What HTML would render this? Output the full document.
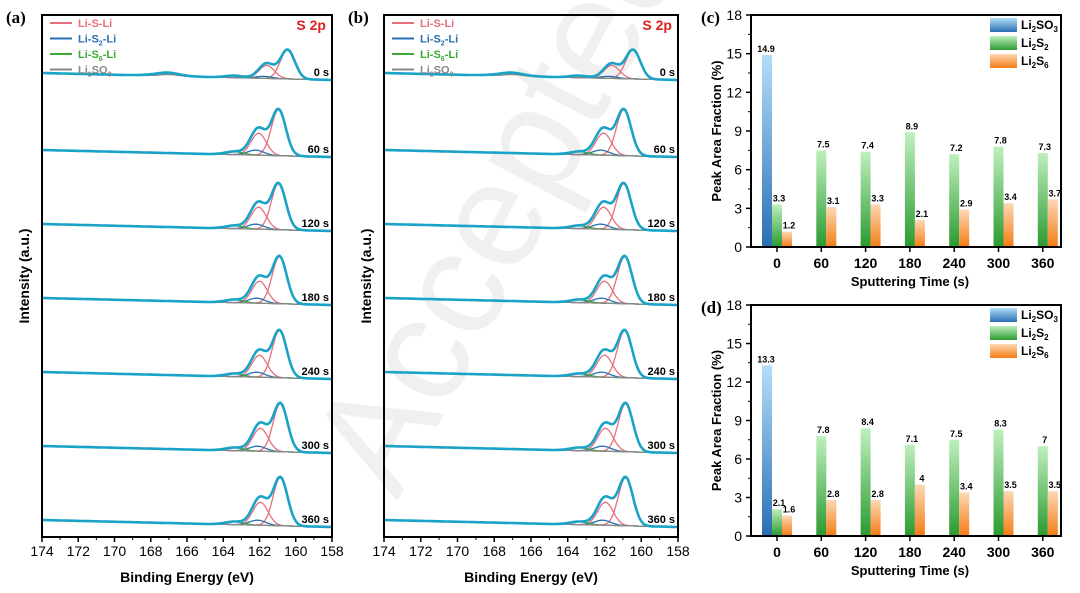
<!DOCTYPE html>
<html><head><meta charset="utf-8">
<style>
html,body{margin:0;padding:0;background:#fff;}
svg{display:block;font-family:"Liberation Sans",Arial,sans-serif;}
</style></head>
<body>
<svg id="fig" width="1080" height="593" viewBox="0 0 1080 593" xmlns="http://www.w3.org/2000/svg">
<defs>
<linearGradient id="gBlue" x1="0" y1="0" x2="0" y2="1"><stop offset="0" stop-color="#b3defa"/><stop offset="1" stop-color="#2a6fb3"/></linearGradient>
<linearGradient id="gGreen" x1="0" y1="0" x2="0" y2="1"><stop offset="0" stop-color="#bff0bd"/><stop offset="1" stop-color="#2b9a31"/></linearGradient>
<linearGradient id="gOrange" x1="0" y1="0" x2="0" y2="1"><stop offset="0" stop-color="#fdd8b5"/><stop offset="1" stop-color="#f57c14"/></linearGradient>
</defs>
<text x="210" y="470" font-size="150" fill="#f0f0f0" transform="rotate(-62 330 330)">Accepted</text>
</svg>
<script>
// ---- XPS data ----
const spectraLabels = ["0 s","60 s","120 s","180 s","240 s","300 s","360 s"];
const mainPos = [160.45,160.95,160.95,160.9,160.9,160.85,160.85];
const mainAmp = [29,46,46,47,47,48,48];
const shoulderPos = [161.6,162.05,162.05,162.0,162.0,161.95,161.95];
const shoulderAmp = [19,28,28,28,28,29,29];
const s2Amp = [2,5,5,5,5,5,5];
const s6Amp = [2,3,3,3,3,3,3];
const so3Amp = [5,0,0,0,0,0,0];
const energyTicks = [174,172,170,168,166,164,162,160,158];
// ---- bar data ----
const barCats = ["0","60","120","180","240","300","360"];
const cSO3 = [14.9,null,null,null,null,null,null];
const cS2 = [3.3,7.5,7.4,8.9,7.2,7.8,7.3];
const cS6 = [1.2,3.1,3.3,2.1,2.9,3.4,3.7];
const dSO3 = [13.3,null,null,null,null,null,null];
const dS2 = [2.1,7.8,8.4,7.1,7.5,8.3,7];
const dS6 = [1.6,2.8,2.8,4,3.4,3.5,3.5];
const yTicks = [0,3,6,9,12,15,18];

const NS="http://www.w3.org/2000/svg";
const svg=document.getElementById('fig');
function el(tag,attrs,parent){const e=document.createElementNS(NS,tag);for(const k in attrs)e.setAttribute(k,attrs[k]);(parent||svg).appendChild(e);return e;}
function txt(s,attrs,parent){const e=el('text',attrs,parent);e.innerHTML=s;return e;}
function gauss(x,c,a,s){return a*Math.exp(-(x-c)*(x-c)/(2*s*s));}

function xpsPanel(x0,x1,top,bottom,letter,name){
  const g=el('g',{});
  
  
  const X=E=>x0+(174-E)/16*(x1-x0);
  const base0=527, step=74;
  for(let i=0;i<spectraLabels.length;i++){
    const bY=base0-step*(6-i)+(i===0?-3:0);
    const bl=E=>bY-(E-158)/16*7;
    const comps=[
      {c:"#e5707c",f:E=>gauss(E,mainPos[i],mainAmp[i],0.4)},
      {c:"#e5707c",f:E=>gauss(E,shoulderPos[i],shoulderAmp[i]-6,0.42)},
      {c:"#2a6fb5",f:E=>gauss(E,shoulderPos[i]+0.15,s2Amp[i],0.45)},
      {c:"#3aaa35",f:E=>gauss(E,163.4,s6Amp[i],0.5)+gauss(E,167.2,so3Amp[i]*0.4,0.8)},
      {c:"#888",f:E=>gauss(E,167.0,so3Amp[i]*0.3,0.5)}
    ];
    comps.forEach((cp,k)=>{
      let d="";
      for(let E=165;E>=158.6;E-=0.05){d+=(d?"L":"M")+X(E).toFixed(1)+","+(bl(E)-cp.f(E)).toFixed(1);}
      if(k>=3){d="";for(let E=174;E>=158;E-=0.05){d+=(d?"L":"M")+X(E).toFixed(1)+","+(bl(E)-cp.f(E)).toFixed(1);}}
      const p=el('path',{d:d,fill:"none",stroke:cp.c,"stroke-width":1.3},g);
      
      
    });
    let d="";
    for(let E=174;E>=158;E-=0.05){
      let v=0;comps.forEach(cp=>v+=cp.f(E));
      d+=(d?"L":"M")+X(E).toFixed(1)+","+(bl(E)-v).toFixed(1);
    }
    const env=el('path',{d:d,fill:"none",stroke:"#1aa3c6","stroke-width":2.6},g);
    
    
    const t=txt(spectraLabels[i],{x:x1-3,y:bY-4,"font-size":11,"font-weight":"bold","text-anchor":"end"},g);
    
    
  }
  const fr=el('rect',{x:x0,y:top,width:x1-x0,height:bottom-top,fill:"none",stroke:"#000","stroke-width":2},g);
  
  
  energyTicks.forEach(E=>{
    el('line',{x1:X(E),x2:X(E),y1:bottom,y2:bottom+5,stroke:"#000","stroke-width":1.5},g);
    if(E!==174){el('line',{x1:X(E+1),x2:X(E+1),y1:bottom,y2:bottom+3,stroke:"#000","stroke-width":1},g);}
    const t=txt(E,{x:X(E),y:bottom+19,"font-size":14,"text-anchor":"middle"},g);
    
    
  });
  const xt=txt("Binding Energy (eV)",{x:(x0+x1)/2,y:bottom+45,"font-size":14,"font-weight":"bold","text-anchor":"middle"},g);
  
  
  const yt=txt("Intensity (a.u.)",{x:0,y:0,"font-size":14,"font-weight":"bold","text-anchor":"middle",transform:`translate(${x0-13},${(top+bottom)/2}) rotate(-90)`},g);
  
  
  const pl=txt(letter,{x:x0-36,y:top+8,"font-size":17,"font-weight":"bold","font-family":"Liberation Serif,serif"},g);
  
  
  const s2p=txt("S 2p",{x:x1-6,y:top+15,"font-size":14,"font-weight":"bold",fill:"#e02020","text-anchor":"end"},g);
  
  
  const leg=[["#e5707c","Li-S-Li"],["#2a6fb5","Li-S<tspan font-size='7' dy='3'>2</tspan><tspan dy='-3'>-Li</tspan>"],["#3aaa35","Li-S<tspan font-size='7' dy='3'>6</tspan><tspan dy='-3'>-Li</tspan>"],["#888","Li<tspan font-size='7' dy='3'>2</tspan><tspan dy='-3'>SO</tspan><tspan font-size='7' dy='3'>3</tspan>"]];
  leg.forEach((l,k)=>{
    const y=top+8+k*15.5;
    el('line',{x1:x0+8,x2:x0+30,y1:y,y2:y,stroke:l[0],"stroke-width":2},g);
    const t=txt(l[1],{x:x0+36,y:y+4,"font-size":11,"font-weight":"bold",fill:l[0]},g);
    
    
  });
}
xpsPanel(42,332,15,537,"(a)","xps-panel-a");
xpsPanel(384,678,15,537,"(b)","xps-panel-b");

function barPanel(top,bottom,letter,so3,s2,s6,name){
  const x0=751,x1=1061;
  const g=el('g',{});
  
  
  const Y=v=>bottom-v/18*(bottom-top);
  const C=i=>777+i*44.3;
  const bw=10;
  const series=[[so3,"url(#gBlue)",-15],[s2,"url(#gGreen)",-5],[s6,"url(#gOrange)",5]];
  series.forEach((s,si)=>{
    s[0].forEach((v,i)=>{
      if(v===null)return;
      const r=el('rect',{x:C(i)+s[2],y:Y(v),width:bw,height:bottom-Y(v),fill:s[1]},g);
      
      
      const t=txt(v,{x:C(i)+s[2]+bw/2+(si===0?-1:2),y:Y(v)-3,"font-size":9,"font-weight":"bold","text-anchor":"middle"},g);
      
      
    });
  });
  const fr=el('rect',{x:x0,y:top,width:x1-x0,height:bottom-top,fill:"none",stroke:"#000","stroke-width":2},g);
  
  
  yTicks.forEach(v=>{
    el('line',{x1:x0-5,x2:x0,y1:Y(v),y2:Y(v),stroke:"#000","stroke-width":1.5},g);
    if(v<18)el('line',{x1:x0-3,x2:x0,y1:Y(v+1.5),y2:Y(v+1.5),stroke:"#000","stroke-width":1},g);
    const t=txt(v,{x:x0-9,y:Y(v)+5,"font-size":14,"text-anchor":"end"},g);
    
    
  });
  barCats.forEach((c,i)=>{
    el('line',{x1:C(i),x2:C(i),y1:bottom,y2:bottom+5,stroke:"#000","stroke-width":1.5},g);
    const t=txt(c,{x:C(i),y:bottom+21,"font-size":14,"font-weight":"bold","text-anchor":"middle"},g);
    
    
  });
  const xt=txt("Sputtering Time (s)",{x:910,y:bottom+39,"font-size":13,"font-weight":"bold","text-anchor":"middle"},g);
  
  
  const yt=txt("Peak Area Fraction (%)",{x:0,y:0,"font-size":13,"font-weight":"bold","text-anchor":"middle",transform:`translate(${x0-30},${(top+bottom)/2}) rotate(-90)`},g);
  
  
  const pl=txt(letter,{x:x0-50,y:top+8,"font-size":17,"font-weight":"bold","font-family":"Liberation Serif,serif"},g);
  
  
  const leg=[["url(#gBlue)","Li<tspan font-size='8' dy='3'>2</tspan><tspan dy='-3'>SO</tspan><tspan font-size='8' dy='3'>3</tspan>"],["url(#gGreen)","Li<tspan font-size='8' dy='3'>2</tspan><tspan dy='-3'>S</tspan><tspan font-size='8' dy='3'>2</tspan>"],["url(#gOrange)","Li<tspan font-size='8' dy='3'>2</tspan><tspan dy='-3'>S</tspan><tspan font-size='8' dy='3'>6</tspan>"]];
  leg.forEach((l,k)=>{
    const y=top+3+k*18;
    el('rect',{x:990,y:y,width:27,height:14,fill:l[0]},g);
    const t=txt(l[1],{x:1021,y:y+11,"font-size":12,"font-weight":"bold"},g);
    
    
  });
}
barPanel(15,247,"(c)",cSO3,cS2,cS6,"bar-chart-c");
barPanel(305,536,"(d)",dSO3,dS2,dS6,"bar-chart-d");
</script>
</body></html>
